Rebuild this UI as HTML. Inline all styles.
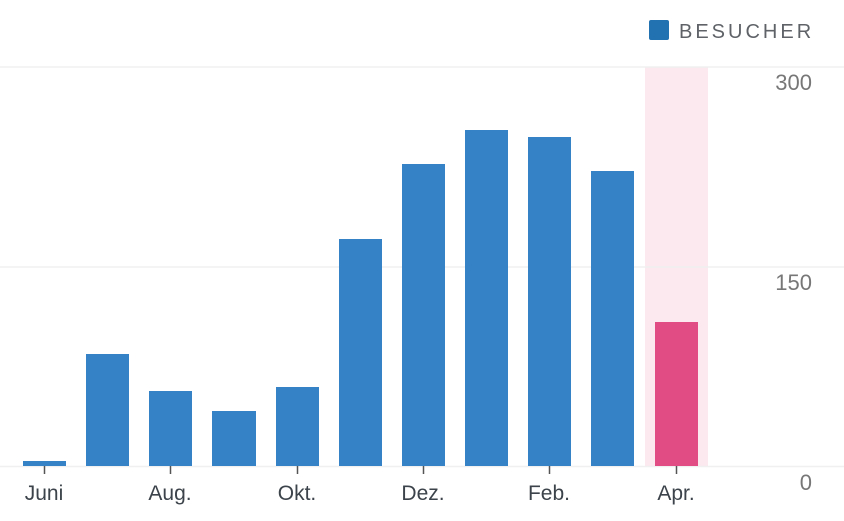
<!DOCTYPE html><html><head><meta charset="utf-8"><style>body{margin:0;background:#fff}</style></head><body>
<svg width="844" height="516" xmlns="http://www.w3.org/2000/svg" font-family="Liberation Sans, sans-serif">
<rect x="645" y="67" width="63" height="399" fill="#fbe9ef"/>
<g stroke="#f0f0f0" stroke-width="1.5"><line x1="0" y1="67" x2="844" y2="67"/><line x1="0" y1="267" x2="844" y2="267"/><line x1="0" y1="466.5" x2="844" y2="466.5"/></g>
<g fill="#3583c6">
<rect x="23" y="461" width="43" height="5"/>
<rect x="86" y="354" width="43" height="112"/>
<rect x="149" y="391" width="43" height="75"/>
<rect x="212" y="411" width="44" height="55"/>
<rect x="276" y="387" width="43" height="79"/>
<rect x="339" y="239" width="43" height="227"/>
<rect x="402" y="164" width="43" height="302"/>
<rect x="465" y="130" width="43" height="336"/>
<rect x="528" y="137" width="43" height="329"/>
<rect x="591" y="171" width="43" height="295"/>
</g>
<rect x="655" y="322" width="43" height="144" fill="#e24c84"/>
<g stroke="#555" stroke-width="1.5"><line x1="44.5" y1="466" x2="44.5" y2="474"/><line x1="170.5" y1="466" x2="170.5" y2="474"/><line x1="297.5" y1="466" x2="297.5" y2="474"/><line x1="423.5" y1="466" x2="423.5" y2="474"/><line x1="549.5" y1="466" x2="549.5" y2="474"/><line x1="676.5" y1="466" x2="676.5" y2="474"/></g>
<g font-size="21" fill="#3c434a" text-anchor="middle"><text x="44" y="500">Juni</text><text x="170" y="500">Aug.</text><text x="297" y="500">Okt.</text><text x="423" y="500">Dez.</text><text x="549" y="500">Feb.</text><text x="676" y="500">Apr.</text></g>
<g font-size="22" fill="#777" text-anchor="end"><text x="812" y="90">300</text><text x="812" y="290">150</text><text x="812" y="490">0</text></g>
<rect x="649" y="20" width="20" height="20" rx="2" fill="#2271b1"/>
<text x="679" y="38" font-size="20" fill="#5f6368" letter-spacing="3">BESUCHER</text>
</svg></body></html>
